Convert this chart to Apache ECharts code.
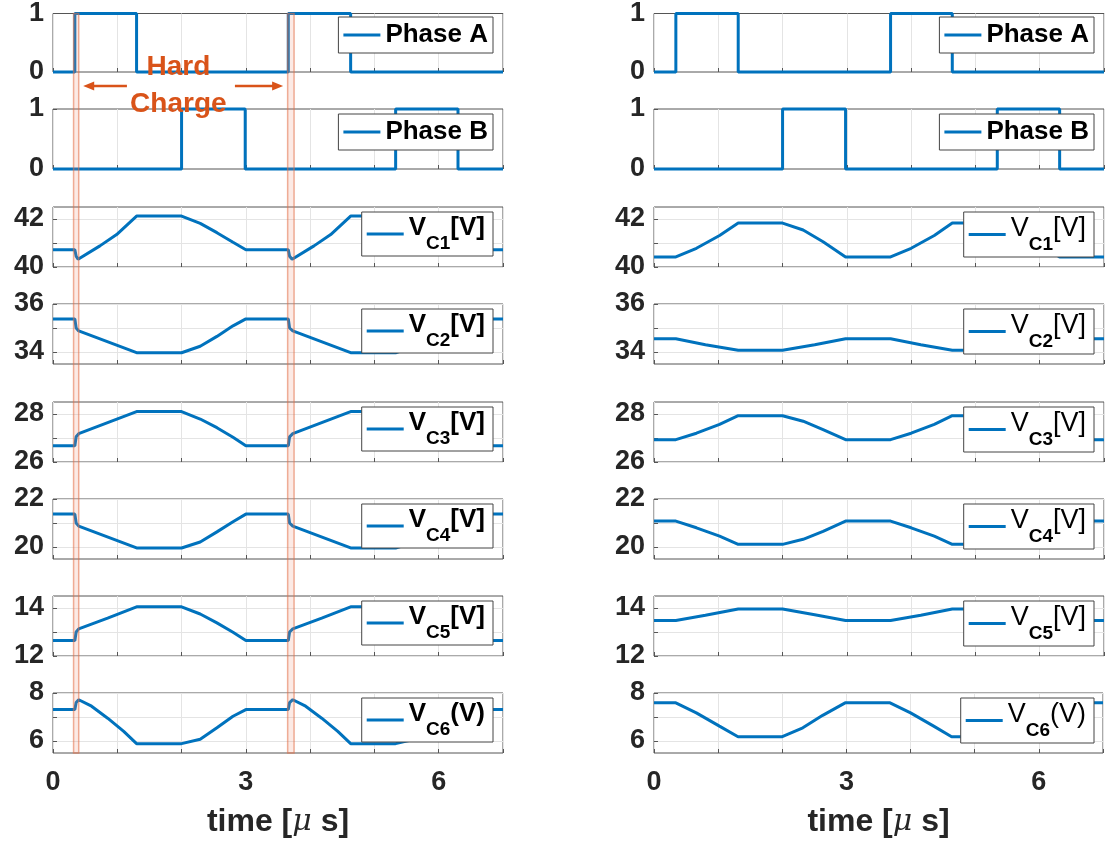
<!DOCTYPE html>
<html>
<head>
<meta charset="utf-8">
<script src="https://cdn.jsdelivr.net/npm/echarts@6/dist/echarts.min.js"></script>
<style>
  html, body { margin: 0; padding: 0; background: #ffffff; }
  #chart { width: 1106px; height: 846px; }
</style>
</head>
<body>
<div id="chart"></div>
<script>
// ---- Tick labels -------------------------------------------------------
const timeTickLabels = [0, 3, 6];
const rowNames = ['Phase A', 'Phase B', 'V_C1[V]', 'V_C2[V]', 'V_C3[V]', 'V_C4[V]', 'V_C5[V]', 'V_C6(V)'];
const rowTickLabels = [[0, 1], [0, 1], [40, 42], [34, 36], [26, 28], [20, 22], [12, 14], [6, 8]];
const rowGridValues = [[0, 1], [0, 1], [40, 41, 42], [34, 35, 36], [26, 27, 28], [20, 21, 22], [12, 13, 14], [6, 7, 8]];
const rowLimits = [[0, 1], [0, 1], [40, 42.5], [33.5, 36], [26, 28.5], [19.5, 22], [12, 14.5], [5.5, 8]];

// ---- Left column: with hard charging (time in us) ----------------------
const phaseA_hard = [[0, 0], [0.34, 0], [0.34, 1], [1.30, 1], [1.30, 0], [3.66, 0], [3.66, 1], [4.63, 1], [4.63, 0], [7, 0]];
const phaseB_hard = [[0, 0], [2.00, 0], [2.00, 1], [2.99, 1], [2.99, 0], [5.33, 0], [5.33, 1], [6.30, 1], [6.30, 0], [7, 0]];
const vc1_hard = [[0, 40.72], [0.34, 40.72], [0.36, 40.45], [0.39, 40.32], [0.73, 40.88], [0.99, 41.35], [1.30, 42.12], [2.00, 42.12], [2.29, 41.82], [2.55, 41.43], [2.80, 41.03], [3.00, 40.72], [3.66, 40.72], [3.68, 40.45], [3.72, 40.32], [4.06, 40.88], [4.32, 41.35], [4.63, 42.12], [5.33, 42.12], [5.62, 41.82], [5.88, 41.43], [6.13, 41.03], [6.33, 40.72], [7, 40.72]];
const vc2_hard = [[0, 35.38], [0.34, 35.38], [0.36, 35.00], [0.40, 34.88], [1.30, 33.97], [2.00, 33.97], [2.29, 34.24], [2.55, 34.65], [2.80, 35.09], [3.00, 35.38], [3.66, 35.38], [3.68, 35.00], [3.73, 34.88], [4.63, 33.97], [5.33, 33.97], [5.62, 34.24], [5.88, 34.65], [6.13, 35.09], [6.33, 35.38], [7, 35.38]];
const vc3_hard = [[0, 26.68], [0.34, 26.68], [0.36, 27.05], [0.40, 27.18], [0.85, 27.64], [1.30, 28.10], [2.00, 28.10], [2.29, 27.79], [2.55, 27.43], [2.80, 27.03], [3.00, 26.68], [3.66, 26.68], [3.68, 27.05], [3.73, 27.18], [4.18, 27.64], [4.63, 28.10], [5.33, 28.10], [5.62, 27.79], [5.88, 27.43], [6.13, 27.03], [6.33, 26.68], [7, 26.68]];
const vc4_hard = [[0, 21.37], [0.34, 21.37], [0.36, 21.00], [0.40, 20.87], [1.30, 19.96], [2.00, 19.96], [2.29, 20.21], [2.55, 20.63], [2.80, 21.05], [3.00, 21.37], [3.66, 21.37], [3.68, 21.00], [3.73, 20.87], [4.63, 19.96], [5.33, 19.96], [5.62, 20.21], [5.88, 20.63], [6.13, 21.05], [6.33, 21.37], [7, 21.37]];
const vc5_hard = [[0, 12.65], [0.34, 12.65], [0.36, 13.00], [0.40, 13.13], [0.85, 13.58], [1.30, 14.05], [2.00, 14.05], [2.29, 13.75], [2.55, 13.38], [2.80, 12.99], [3.00, 12.65], [3.66, 12.65], [3.68, 13.00], [3.73, 13.13], [4.18, 13.58], [4.63, 14.05], [5.33, 14.05], [5.62, 13.75], [5.88, 13.38], [6.13, 12.99], [6.33, 12.65], [7, 12.65]];
const vc6_hard = [[0, 7.31], [0.34, 7.31], [0.36, 7.60], [0.40, 7.72], [0.60, 7.45], [0.85, 6.95], [1.10, 6.40], [1.30, 5.89], [2.00, 5.89], [2.29, 6.07], [2.55, 6.55], [2.80, 7.03], [3.00, 7.31], [3.66, 7.31], [3.68, 7.60], [3.73, 7.72], [3.93, 7.45], [4.18, 6.95], [4.43, 6.40], [4.63, 5.89], [5.33, 5.89], [5.62, 6.07], [5.88, 6.55], [6.13, 7.03], [6.33, 7.31], [7, 7.31]];

// ---- Right column: soft charging -------------------------------------
const phaseA_soft = [[0, 0], [0.34, 0], [0.34, 1], [1.31, 1], [1.31, 0], [3.68, 0], [3.68, 1], [4.64, 1], [4.64, 0], [7, 0]];
const phaseB_soft = [[0, 0], [2.00, 0], [2.00, 1], [2.98, 1], [2.98, 0], [5.34, 0], [5.34, 1], [6.31, 1], [6.31, 0], [7, 0]];
const vc1_soft = [[0, 40.42], [0.34, 40.42], [0.66, 40.78], [1.02, 41.31], [1.31, 41.83], [2.00, 41.83], [2.32, 41.54], [2.63, 41.05], [2.98, 40.42], [3.68, 40.42], [4.00, 40.78], [4.36, 41.31], [4.64, 41.83], [5.34, 41.83], [5.66, 41.54], [5.97, 41.05], [6.31, 40.42], [7, 40.42]];
const vc2_soft = [[0, 34.55], [0.34, 34.55], [0.80, 34.30], [1.31, 34.07], [2.00, 34.07], [2.50, 34.30], [2.98, 34.55], [3.68, 34.55], [4.15, 34.30], [4.64, 34.07], [5.34, 34.07], [5.84, 34.30], [6.31, 34.55], [7, 34.55]];
const vc3_soft = [[0, 26.93], [0.34, 26.93], [0.66, 27.20], [1.02, 27.57], [1.31, 27.93], [2.00, 27.93], [2.32, 27.70], [2.63, 27.35], [2.98, 26.93], [3.68, 26.93], [4.00, 27.20], [4.36, 27.57], [4.64, 27.93], [5.34, 27.93], [5.66, 27.70], [5.97, 27.35], [6.31, 26.93], [7, 26.93]];
const vc4_soft = [[0, 21.08], [0.34, 21.08], [0.66, 20.80], [1.02, 20.45], [1.31, 20.11], [2.00, 20.11], [2.32, 20.32], [2.63, 20.65], [2.98, 21.08], [3.68, 21.08], [4.00, 20.80], [4.36, 20.45], [4.64, 20.11], [5.34, 20.11], [5.66, 20.32], [5.97, 20.65], [6.31, 21.08], [7, 21.08]];
const vc5_soft = [[0, 13.48], [0.34, 13.48], [0.80, 13.70], [1.31, 13.96], [2.00, 13.96], [2.50, 13.72], [2.98, 13.48], [3.68, 13.48], [4.15, 13.70], [4.64, 13.96], [5.34, 13.96], [5.84, 13.72], [6.31, 13.48], [7, 13.48]];
const vc6_soft = [[0, 7.59], [0.34, 7.59], [0.66, 7.17], [1.02, 6.62], [1.31, 6.18], [2.00, 6.18], [2.32, 6.55], [2.63, 7.07], [2.98, 7.59], [3.68, 7.59], [4.00, 7.17], [4.36, 6.62], [4.64, 6.18], [5.34, 6.18], [5.66, 6.55], [5.97, 7.07], [6.31, 7.59], [7, 7.59]];

// Hard-charging intervals (us) and the annotation arrows (tail, head)
const hardChargeBands = [[0.32, 0.40], [3.65, 3.75]];
const hardChargeArrows = [[1.15, 0.47], [2.83, 3.58]];
const hardChargeLabelAt = 1.95;

const columns = [
  { series: [phaseA_hard, phaseB_hard, vc1_hard, vc2_hard, vc3_hard, vc4_hard, vc5_hard, vc6_hard], left: 53, boldLegend: true },
  { series: [phaseA_soft, phaseB_soft, vc1_soft, vc2_soft, vc3_soft, vc4_soft, vc5_soft, vc6_soft], left: 654, boldLegend: false }
];

// ---- Layout / style ----------------------------------------------------
const FONT = '"Liberation Sans", Arial, Helvetica, sans-serif';
const INK = '#262626';
const BLUE = '#0072BD';
const ORANGE = '#D95319';
const rowTops = [12, 109, 207, 304, 402, 499, 596, 693];
const plotW = 450, plotH = 60;
const CHART_W = 1106;

const near = (a, b) => Math.abs(a - b) < 1e-6;

const grid = [], xAxis = [], yAxis = [], series = [], legend = [];

columns.forEach((col, c) => {
  rowNames.forEach((name, r) => {
    const idx = c * rowNames.length + r;
    const isBottom = r === rowNames.length - 1;
    const isPhase = r < 2;
    grid.push({
      left: col.left, top: rowTops[r], width: plotW, height: plotH,
      show: true, borderColor: '#555555', borderWidth: 1, backgroundColor: '#ffffff'
    });
    xAxis.push({
      type: 'value', gridIndex: idx, min: 0, max: 7, interval: 1,
      axisLine: { show: false },
      axisTick: { show: true, inside: true, length: 4, lineStyle: { color: '#555555' } },
      splitLine: { show: true, lineStyle: { color: '#e4e4e4', width: 1 } },
      axisLabel: {
        show: isBottom, margin: 16,
        fontFamily: FONT, fontSize: 27, fontWeight: 'bold', color: INK,
        formatter: v => timeTickLabels.some(t => near(t, v)) ? String(v) : ''
      },
      name: isBottom ? '{t|time [}{mu|\u03BC}{t| s]}' : '',
      nameLocation: 'middle', nameGap: 53,
      nameTextStyle: {
        rich: {
          t: { fontFamily: FONT, fontSize: 32, fontWeight: 'bold', color: INK },
          mu: { fontFamily: '"DejaVu Serif", serif', fontSize: 30, fontStyle: 'italic', color: INK }
        }
      }
    });
    yAxis.push({
      type: 'value', gridIndex: idx,
      min: rowLimits[r][0], max: rowLimits[r][1],
      axisLine: { show: false },
      axisTick: { show: true, inside: true, length: 4, customValues: rowGridValues[r], lineStyle: { color: '#555555' } },
      splitLine: { show: !isPhase, lineStyle: { color: '#e4e4e4', width: 1 } },
      axisLabel: {
        margin: 9, fontFamily: FONT, fontSize: 27, fontWeight: 'bold', color: INK,
        customValues: rowTickLabels[r],
        formatter: v => String(v)
      }
    });
    series.push({
      type: 'line', name, xAxisIndex: idx, yAxisIndex: idx,
      data: col.series[r], showSymbol: false, symbol: 'none', clip: false,
      lineStyle: { color: BLUE, width: 3 }, itemStyle: { color: BLUE },
      z: 3
    });
    const legendRight = CHART_W - (col.left + plotW - 10);
    const weight = (isPhase || col.boldLegend) ? 'bold' : 'normal';
    const mainSize = (isPhase || col.boldLegend) ? 26 : 27;
    legend.push({
      data: [name], right: legendRight, top: rowTops[r] + 5,
      orient: 'horizontal', icon: 'rect', itemWidth: 37, itemHeight: 3, itemGap: 0,
      backgroundColor: '#ffffff', borderColor: '#444444', borderWidth: 1,
      padding: isPhase ? [5, 5, 5, 5] : [3, 8, 3, 5],
      selectedMode: false,
      textStyle: {
        fontFamily: FONT, fontSize: 26, fontWeight: 'bold', color: '#000000',
        rich: {
          p: { fontFamily: FONT, fontSize: 26, fontWeight: 'bold', color: '#000000' },
          m: { fontFamily: FONT, fontSize: mainSize, fontWeight: weight, color: '#000000', verticalAlign: 'bottom', padding: [0, 0, 12, 0] },
          s: { fontFamily: FONT, fontSize: 19, fontWeight: 'bold', color: '#000000', verticalAlign: 'bottom' }
        }
      },
      formatter: n => {
        const m = /^V_C(\d)(.*)$/.exec(n);
        return m ? '{m|V}{s|C' + m[1] + '}{m|' + m[2] + '}' : '{p|' + n + '}';
      }
    });
  });
});

const chart = echarts.init(document.getElementById('chart'), null, { renderer: 'canvas' });
chart.setOption({
  animation: false,
  backgroundColor: '#ffffff',
  grid, xAxis, yAxis, series, legend
});

// ---- Hard-charge annotation on the left column ------------------------
const lastRow = rowNames.length - 1;
const yTop = chart.convertToPixel({ yAxisIndex: 0 }, rowLimits[0][1]);
const yBottom = chart.convertToPixel({ yAxisIndex: lastRow }, rowLimits[lastRow][0]);
const yFirstBase = chart.convertToPixel({ yAxisIndex: 0 }, rowLimits[0][0]);
const px = t => chart.convertToPixel({ xAxisIndex: 0 }, t);

const graphic = [];
hardChargeBands.forEach(([t0, t1]) => {
  const x0 = px(t0), x1 = px(t1);
  graphic.push({
    type: 'rect', z: 10,
    shape: { x: x0, y: yTop, width: x1 - x0, height: yBottom - yTop },
    style: { fill: 'rgba(240,140,110,0.18)', stroke: 'rgba(225,110,70,0.55)', lineWidth: 1.5 }
  });
});
const arrowY = yFirstBase + 14;
hardChargeArrows.forEach(([tail, head]) => {
  const xt = px(tail), xh = px(head);
  const dir = Math.sign(xh - xt);
  graphic.push({
    type: 'line', z: 11,
    shape: { x1: xt, y1: arrowY, x2: xh - dir * 8, y2: arrowY },
    style: { stroke: ORANGE, lineWidth: 2.5 }
  });
  graphic.push({
    type: 'polygon', z: 11,
    shape: { points: [[xh, arrowY], [xh - dir * 11, arrowY - 4.5], [xh - dir * 11, arrowY + 4.5]] },
    style: { fill: ORANGE }
  });
});
graphic.push({
  type: 'text', z: 12,
  x: px(hardChargeLabelAt), y: arrowY,
  style: {
    text: 'Hard\nCharge', fill: ORANGE, fontFamily: FONT, fontSize: 28, fontWeight: 'bold',
    align: 'center', verticalAlign: 'middle', lineHeight: 37
  }
});
chart.setOption({ graphic });
</script>
</body>
</html>
